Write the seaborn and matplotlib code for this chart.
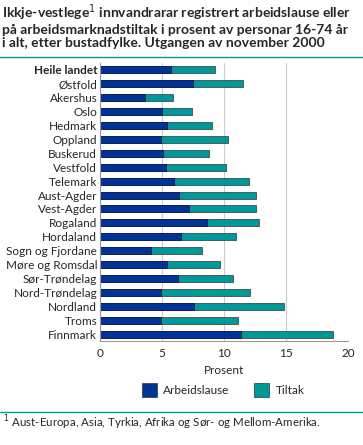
import matplotlib
matplotlib.use("Agg")
import matplotlib.pyplot as plt
import seaborn as sns
import pandas as pd
from matplotlib.patches import Patch
from matplotlib.lines import Line2D

regions = ["Heile landet", "Østfold", "Akershus", "Oslo", "Hedmark", "Oppland",
           "Buskerud", "Vestfold", "Telemark", "Aust-Agder", "Vest-Agder",
           "Rogaland", "Hordaland", "Sogn og Fjordane", "Møre og Romsdal",
           "Sør-Trøndelag", "Nord-Trøndelag", "Nordland", "Troms", "Finnmark"]
arbeidslause = [5.7, 7.5, 3.6, 5.0, 5.4, 4.9, 5.1, 5.3, 6.0, 6.4, 7.2, 8.6, 6.5,
                4.1, 5.4, 6.3, 4.9, 7.6, 4.9, 11.4]
tiltak = [3.6, 4.0, 2.3, 2.4, 3.6, 5.4, 3.7, 4.9, 6.0, 6.2, 5.4, 4.2, 4.5,
          4.1, 4.3, 4.4, 7.2, 7.2, 6.2, 7.4]
xticks = [0, 5, 10, 15, 20]

sns.set_theme(style="white")
plt.rcParams['font.family'] = ['Lato', 'DejaVu Sans']

DARK = "#003399"
TEAL = "#009999"

df = pd.DataFrame({"region": regions, "arbeidslause": arbeidslause, "tiltak": tiltak})
df["total"] = df["arbeidslause"] + df["tiltak"]

fig = plt.figure(figsize=(3.63, 4.45), dpi=100)
ax = fig.add_axes([100/363, 1 - 341/445, 248/363, (341-63)/445])

sns.barplot(data=df, y="region", x="total", color=TEAL, saturation=1, width=0.5,
            edgecolor="#333333", linewidth=0.5, ax=ax, orient="h")
sns.barplot(data=df, y="region", x="arbeidslause", color=DARK, saturation=1, width=0.5,
            edgecolor="#111133", linewidth=0.5, ax=ax, orient="h")

ax.set_xlim(0, 20)
ax.set_xticks(xticks)
ax.set_xticklabels([str(t) for t in xticks], fontsize=8.5)
ax.set_xlabel("Prosent", fontsize=8.5, labelpad=4)
ax.set_ylabel("")
ax.tick_params(axis='y', labelsize=8.5, pad=2, length=0)
ax.tick_params(axis='x', pad=5, length=0)
for lab in ax.get_yticklabels():
    if lab.get_text() == "Heile landet":
        lab.set_fontweight("bold")
ax.grid(axis='x', color="#cccccc", linewidth=0.8)
ax.set_axisbelow(True)
for s in ["top", "right"]:
    ax.spines[s].set_visible(False)
for s in ["left", "bottom"]:
    ax.spines[s].set_color("#999999")
    ax.spines[s].set_linewidth(0.8)

# Title
fig.text(2/363, 1 - 2/445,
         "Ikkje-vestlege$^{1}$ innvandrarar registrert arbeidslause eller\n"
         "på arbeidsmarknadstiltak i prosent av personar 16-74 år\n"
         "i alt, etter bustadfylke. Utgangen av november 2000",
         ha="left", va="top", fontsize=10, fontweight="bold", linespacing=1.12)
fig.add_artist(Line2D([0, 1], [1 - 57/445, 1 - 57/445], color=TEAL, linewidth=1,
                      transform=fig.transFigure))

# Legend
handles = [Patch(facecolor=DARK, edgecolor="#333333", linewidth=0.5, label="Arbeidslause"),
           Patch(facecolor=TEAL, edgecolor="#333333", linewidth=0.5, label="Tiltak")]
fig.legend(handles=handles, loc="center", bbox_to_anchor=(223/363, 1 - 390/445),
           ncol=2, frameon=False, fontsize=8.5, handlelength=1.3, handleheight=1.4,
           columnspacing=2.1, handletextpad=0.5)

fig.add_artist(Line2D([0, 1], [1 - 412/445, 1 - 412/445], color=TEAL, linewidth=1,
                      transform=fig.transFigure))
fig.text(3/363, 1 - 423/445,
         "$^{1}$ Aust-Europa, Asia, Tyrkia, Afrika og Sør- og Mellom-Amerika.",
         ha="left", va="center", fontsize=8.3)

fig.savefig("out.png", dpi=100)
